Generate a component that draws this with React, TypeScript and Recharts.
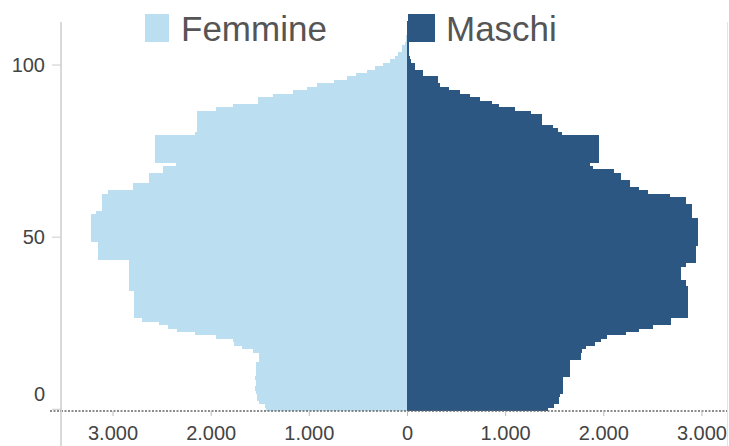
import { Bar, BarChart, XAxis, YAxis } from "recharts";

const FEMMINE = [
  1440, 1450, 1510, 1530, 1535, 1545, 1550, 1545, 1545, 1550,
  1545, 1545, 1540, 1545, 1510, 1510, 1515, 1570, 1690, 1770,
  1775, 1950, 2160, 2350, 2440, 2530, 2700, 2785, 2785, 2785,
  2785, 2785, 2785, 2785, 2785, 2840, 2840, 2840, 2840, 2840,
  2840, 2840, 2840, 2840, 3150, 3150, 3150, 3150, 3150, 3225,
  3225, 3225, 3225, 3225, 3225, 3225, 3225, 3170, 3110, 3110,
  3110, 3110, 3110, 3050, 2800, 2800, 2630, 2630, 2630, 2490,
  2490, 2360, 2570, 2570, 2570, 2570, 2570, 2570, 2570, 2570,
  2160, 2140, 2140, 2140, 2140, 2140, 2140, 1950, 1780, 1520,
  1520, 1370, 1170, 1020, 925, 750, 620, 520, 410, 330,
  250, 180, 130, 100, 60, 55, 25, 15, 12, 10,
  8, 6, 5,
];

const MASCHI = [
  1430, 1490, 1545, 1545, 1550, 1585, 1585, 1585, 1585, 1585,
  1660, 1660, 1660, 1660, 1660, 1770, 1770, 1775, 1815, 1910,
  1970, 2030, 2225, 2360, 2500, 2680, 2680, 2860, 2860, 2860,
  2860, 2860, 2860, 2860, 2860, 2860, 2840, 2840, 2785, 2785,
  2785, 2785, 2840, 2940, 2940, 2940, 2940, 2940, 2955, 2955,
  2955, 2955, 2955, 2955, 2955, 2955, 2900, 2900, 2900, 2900,
  2840, 2840, 2670, 2450, 2360, 2270, 2270, 2180, 2180, 2100,
  1890, 1860, 1950, 1950, 1950, 1950, 1950, 1950, 1950, 1950,
  1570, 1530, 1485, 1370, 1370, 1370, 1260, 1095, 930, 860,
  740, 640, 530, 420, 330, 310, 310, 160, 160, 80,
  80, 40, 25, 20, 18, 15, 12, 10, 8, 6,
  5, 5, 5,
];

const AGE_TICKS = [0, 50, 100];
const VALUE_TICKS = [-3000, -2000, -1000, 0, 1000, 2000, 3000];

const F_COLOR = "#bbdef0";
const M_COLOR = "#2b5782";
const FONT = "'Liberation Sans', Arial, sans-serif";

const data = FEMMINE.map((f, age) => ({ age, f: -f, m: MASCHI[age] }));

const fmt = (v: number) => String(Math.abs(v)).replace(/\B(?=(\d{3})+(?!\d))/g, ".");

function AgeTick({ x, y, payload }: any) {
  // the "0" label sits a bit above the baseline so it clears the x labels
  const shift = payload.value === 0 ? -15 : 0;
  return (
    <text x={x} y={y + shift} dy="0.36em" textAnchor="end" fill="#444" fontSize={20} fontFamily={FONT}>
      {payload.value}
    </text>
  );
}

// recharts rounds the bar thickness down, so stretch each bar over its whole band
function BandBar({ x, y, width, height, fill }: any) {
  const x0 = Math.min(x, x + width);
  const y0 = Math.min(y, y + height);
  return (
    <rect
      x={x0}
      y={y0 - 0.6}
      width={Math.abs(width)}
      height={Math.abs(height) + 1.2}
      fill={fill}
      shapeRendering="crispEdges"
    />
  );
}

export default function App() {
  return (
    <div style={{ position: "absolute", left: 0, top: 0, width: 729, height: 446 }}>
      <BarChart
        width={729}
        height={446}
        data={data}
        layout="vertical"
        stackOffset="sign"
        barCategoryGap={0}
        barGap={0}
        margin={{ top: 22, right: 2, bottom: 0, left: 0 }}
      >
        <XAxis
          type="number"
          domain={[-3530, 3255]}
          ticks={VALUE_TICKS}
          tickFormatter={fmt}
          height={35}
          axisLine={{ stroke: "#666", strokeDasharray: "2 1.5", strokeWidth: 1.5 }}
          tickLine={{ stroke: "#bbb" }}
          tickSize={5}
          tickMargin={10}
          tick={{ fill: "#444", fontSize: 20, fontFamily: FONT }}
          allowDataOverflow
        />
        <YAxis
          type="category"
          dataKey="age"
          reversed
          width={61}
          ticks={AGE_TICKS}
          interval={0}
          axisLine={{ stroke: "#d9d9d9", strokeWidth: 2 }}
          tickLine={{ stroke: "#ccc" }}
          tickSize={9}
          tickMargin={7}
          tick={<AgeTick />}
        />
        <Bar dataKey="f" stackId="p" fill={F_COLOR} shape={<BandBar />} isAnimationActive={false} />
        <Bar dataKey="m" stackId="p" fill={M_COLOR} shape={<BandBar />} isAnimationActive={false} />
      </BarChart>
      <svg
        width={729}
        height={446}
        style={{ position: "absolute", left: 0, top: 0, pointerEvents: "none" }}
      >
        <line x1={61} x2={61} y1={411} y2={446} stroke="#d9d9d9" strokeWidth={2} />
        <line x1={50} x2={61} y1={411} y2={411} stroke="#666" strokeWidth={1.5} strokeDasharray="2 1.5" />
        <line x1={727.5} x2={727.5} y1={22} y2={446} stroke="#e3e3e3" strokeWidth={1} />
        <rect x={145} y={14} width={24} height={28} fill={F_COLOR} />
        <text x={181} y={41} fontSize={35} fill="#555" fontFamily={FONT}>Femmine</text>
        <rect x={408} y={14} width={27} height={28} fill={M_COLOR} />
        <text x={446} y={41} fontSize={35} fill="#555" fontFamily={FONT}>Maschi</text>
      </svg>
    </div>
  );
}
